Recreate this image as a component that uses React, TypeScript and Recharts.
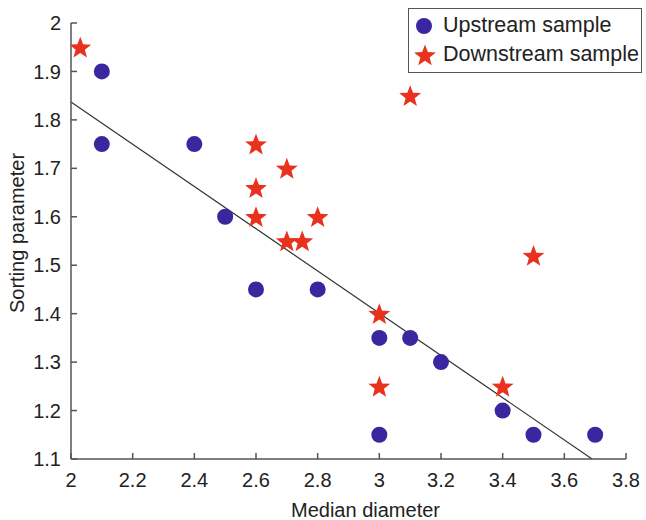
import React from "react"
import {
  ReferenceLine,
  Scatter,
  ScatterChart,
  XAxis,
  YAxis,
} from "recharts"

const upstreamX = [2.1, 2.1, 2.4, 2.5, 2.6, 2.8, 3.0, 3.0, 3.1, 3.2, 3.4, 3.5, 3.7]
const upstreamY = [1.9, 1.75, 1.75, 1.6, 1.45, 1.45, 1.35, 1.15, 1.35, 1.3, 1.2, 1.15, 1.15]

const downstreamX = [2.03, 2.6, 2.7, 2.6, 2.6, 2.8, 2.7, 2.75, 3.1, 3.0, 3.0, 3.4, 3.5]
const downstreamY = [1.95, 1.75, 1.7, 1.66, 1.6, 1.6, 1.55, 1.55, 1.85, 1.4, 1.25, 1.25, 1.52]

const fitX = [2, 3.69]
const fitY = [1.837, 1.1]

const xTicks = [2, 2.2, 2.4, 2.6, 2.8, 3, 3.2, 3.4, 3.6, 3.8]
const yTicks = [1.1, 1.2, 1.3, 1.4, 1.5, 1.6, 1.7, 1.8, 1.9, 2]

const BLUE = "#3a27a0"
const RED = "#e8321e"
const AXIS = "#555"
const FONT = "Liberation Sans, Arial, sans-serif"

const upstream = upstreamX.map((x, i) => ({ x, y: upstreamY[i] }))
const downstream = downstreamX.map((x, i) => ({ x, y: downstreamY[i] }))

function starPath(cx: number, cy: number, R: number) {
  const r = R * 0.42
  const pts: string[] = []
  for (let i = 0; i < 10; i++) {
    const rad = i % 2 === 0 ? R : r
    const a = -Math.PI / 2 + (i * Math.PI) / 5
    pts.push(`${(cx + rad * Math.cos(a)).toFixed(2)},${(cy + rad * Math.sin(a)).toFixed(2)}`)
  }
  return `M${pts.join("L")}Z`
}

function Dot(props: any) {
  const { cx, cy } = props
  return <circle cx={cx} cy={cy} r={8} fill={BLUE} />
}

function Star(props: any) {
  const { cx, cy } = props
  return <path d={starPath(cx, cy + 1, 11.5)} fill={RED} />
}

function LegendBox() {
  return (
    <div
      style={{
        position: "absolute",
        top: 8,
        left: 408,
        width: 234,
        height: 65,
        boxSizing: "border-box",
        border: "1.5px solid #555",
        background: "#fff",
        padding: "2px 0 0 4px",
        fontFamily: FONT,
        fontSize: 21.5,
        color: "#222",
        lineHeight: "29px",
      }}
    >
      <div style={{ display: "flex", alignItems: "center" }}>
        <svg width={22} height={22} style={{ marginRight: 8 }}>
          <circle cx={11} cy={11} r={8} fill={BLUE} />
        </svg>
        Upstream sample
      </div>
      <div style={{ display: "flex", alignItems: "center" }}>
        <svg width={24} height={24} style={{ marginRight: 6 }}>
          <path d={starPath(12, 13, 11.5)} fill={RED} />
        </svg>
        Downstream sample
      </div>
    </div>
  )
}

export default function App() {
  return (
    <div style={{ position: "absolute", left: 0, top: 0, width: 646, height: 520, background: "#fff" }}>
      <ScatterChart width={646} height={520} margin={{ top: 23, right: 20, left: 0, bottom: 0 }}>
        <XAxis
          type="number"
          dataKey="x"
          domain={[2, 3.8]}
          ticks={xTicks}
          allowDataOverflow
          height={61}
          tickSize={-6}
          tickMargin={20}
          stroke={AXIS}
          strokeWidth={1.5}
          tick={{ fill: "#222", fontSize: 20, fontFamily: FONT }}
          label={{
            value: "Median diameter",
            position: "insideBottom",
            offset: 3,
            dx: 17,
            fill: "#222",
            fontSize: 20,
            fontFamily: FONT,
          }}
        />
        <YAxis
          type="number"
          dataKey="y"
          domain={[1.1, 2]}
          ticks={yTicks}
          allowDataOverflow
          width={71}
          tickSize={-6}
          tickMargin={16}
          stroke={AXIS}
          strokeWidth={1.5}
          tick={{ fill: "#222", fontSize: 20, fontFamily: FONT }}
          label={{
            value: "Sorting parameter",
            angle: -90,
            position: "insideLeft",
            dx: 12,
            dy: -8,
            style: { textAnchor: "middle" },
            fill: "#222",
            fontSize: 20,
            fontFamily: FONT,
          }}
        />
        <ReferenceLine
          segment={[
            { x: fitX[0], y: fitY[0] },
            { x: fitX[1], y: fitY[1] },
          ]}
          stroke="#333"
          strokeWidth={1.2}
          ifOverflow="visible"
        />
        <Scatter name="Upstream sample" data={upstream} shape={Dot} isAnimationActive={false} />
        <Scatter name="Downstream sample" data={downstream} shape={Star} isAnimationActive={false} />
      </ScatterChart>
      <LegendBox />
    </div>
  )
}
